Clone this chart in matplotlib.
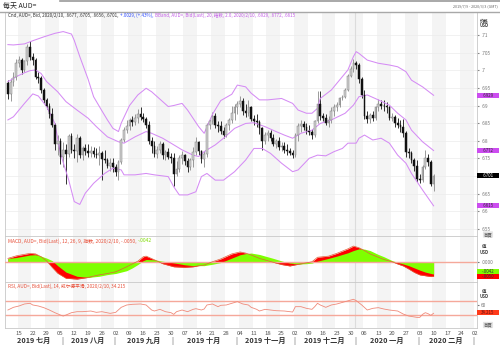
import numpy as np
import pandas as pd
import matplotlib
matplotlib.use("Agg")
import matplotlib.pyplot as plt
from matplotlib import transforms
from matplotlib.patches import Rectangle

plt.rcParams['font.family'] = ['Noto Sans CJK SC', 'DejaVu Sans']

W, H = 500, 352

# trading days shown (AUD= daily candles) and the empty days to the right
days = pd.bdate_range("2019-07-09", "2020-02-10")
axis_days = pd.bdate_range("2019-07-09", "2020-03-06")

opens = [.6965, .6932, .6968, .6980,
         .7022, .7030, .7002, .7025, .7065,
         .7038, .7030, .6982, .6978, .6945,
         .6915, .6900, .6875, .6845, .6790,
         .6800, .6755, .6775, .6762, .6812,
         .6775, .6770, .6808, .6760, .6778,
         .6770, .6765, .6772, .6762, .6758,
         .6765, .6748, .6745, .6728, .6738,
         .6725, .6712, .6740, .6802, .6830,
         .6842, .6858, .6852, .6865, .6875,
         .6868, .6862, .6845, .6798, .6785,
         .6762, .6775, .6792, .6758, .6768,
         .6755, .6752, .6705, .6720, .6752,
         .6758, .6742, .6725, .6745, .6768,
         .6795, .6770, .6748, .6762, .6845,
         .6855, .6870, .6845, .6842, .6828,
         .6815, .6845, .6858, .6880, .6895,
         .6905, .6912, .6885, .6880, .6895,
         .6862, .6855, .6852, .6835, .6800,
         .6815, .6822, .6808, .6792, .6798,
         .6782, .6785, .6775, .6772, .6765,
         .6758, .6815, .6842, .6848, .6838,
         .6828, .6825, .6815, .6855, .6905,
         .6870, .6865, .6850, .6858, .6885,
         .6895, .6902, .6920, .6925, .6945,
         .6985, .7005, .7020, .7015, .6975,
         .6930, .6870, .6862, .6872, .6865,
         .6895, .6905, .6900, .6898, .6895,
         .6865, .6868, .6850, .6845, .6840,
         .6822, .6768, .6765, .6745, .6728,
         .6690, .6688, .6725, .6752, .6740,
         .6677]
highs = [.6972, .6978, .6995, .7032,
         .7040, .7035, .7030, .7075, .7082,
         .7048, .7035, .6995, .6985, .6950,
         .6922, .6908, .6892, .6850, .6815,
         .6808, .6795, .6792, .6820, .6822,
         .6790, .6820, .6812, .6785, .6790,
         .6792, .6785, .6782, .6780, .6785,
         .6772, .6775, .6752, .6750, .6750,
         .6735, .6745, .6808, .6840, .6860,
         .6865, .6870, .6875, .6890, .6895,
         .6880, .6868, .6855, .6810, .6800,
         .6785, .6800, .6795, .6775, .6778,
         .6765, .6765, .6742, .6760, .6770,
         .6762, .6750, .6752, .6782, .6810,
         .6800, .6775, .6772, .6850, .6862,
         .6882, .6878, .6855, .6855, .6840,
         .6850, .6865, .6900, .6905, .6912,
         .6928, .6920, .6905, .6915, .6900,
         .6872, .6875, .6858, .6840, .6825,
         .6830, .6830, .6820, .6805, .6810,
         .6795, .6795, .6790, .6780, .6775,
         .6822, .6850, .6860, .6855, .6850,
         .6845, .6832, .6860, .6940, .6940,
         .6880, .6875, .6870, .6895, .6905,
         .6910, .6925, .6930, .6950, .6990,
         .7012, .7032, .7025, .7020, .6980,
         .6945, .6885, .6880, .6885, .6900,
         .6918, .6915, .6915, .6910, .6900,
         .6878, .6872, .6865, .6860, .6862,
         .6828, .6780, .6772, .6750, .6745,
         .6705, .6730, .6775, .6762, .6745,
         .6705]
lows = [.6918, .6912, .6955, .6972,
        .7010, .6990, .6995, .7015, .7030,
        .7015, .6975, .6965, .6935, .6908,
        .6890, .6865, .6840, .6775, .6760,
        .6735, .6725, .6677, .6755, .6765,
        .6752, .6740, .6752, .6745, .6760,
        .6755, .6755, .6755, .6750, .6732,
        .6688, .6738, .6722, .6715, .6712,
        .6700, .6688, .6735, .6795, .6822,
        .6830, .6842, .6845, .6850, .6860,
        .6852, .6835, .6790, .6765, .6755,
        .6752, .6765, .6748, .6745, .6748,
        .6738, .6671, .6700, .6710, .6735,
        .6730, .6712, .6718, .6725, .6760,
        .6760, .6738, .6725, .6755, .6832,
        .6848, .6835, .6825, .6818, .6808,
        .6810, .6830, .6850, .6860, .6875,
        .6895, .6872, .6868, .6870, .6855,
        .6845, .6840, .6820, .6775, .6790,
        .6800, .6800, .6785, .6780, .6775,
        .6770, .6765, .6760, .6760, .6750,
        .6755, .6800, .6825, .6830, .6820,
        .6815, .6805, .6810, .6850, .6860,
        .6855, .6845, .6840, .6850, .6870,
        .6885, .6895, .6915, .6920, .6940,
        .6980, .6995, .7005, .6965, .6920,
        .6862, .6850, .6850, .6855, .6860,
        .6885, .6890, .6885, .6880, .6858,
        .6855, .6840, .6835, .6825, .6810,
        .6755, .6752, .6738, .6715, .6682,
        .6680, .6682, .6720, .6728, .6670,
        .6656]
closes = [.6932, .6968, .6980, .7022,
          .7030, .7002, .7025, .7065, .7038,
          .7030, .6982, .6978, .6945, .6915,
          .6900, .6875, .6845, .6790, .6800,
          .6755, .6775, .6762, .6812, .6775,
          .6770, .6808, .6760, .6778, .6770,
          .6765, .6772, .6762, .6758, .6765,
          .6748, .6745, .6728, .6738, .6725,
          .6712, .6740, .6802, .6830, .6842,
          .6858, .6852, .6865, .6875, .6868,
          .6862, .6845, .6798, .6785, .6762,
          .6775, .6792, .6758, .6768, .6755,
          .6752, .6705, .6720, .6752, .6758,
          .6742, .6725, .6745, .6768, .6795,
          .6770, .6748, .6762, .6845, .6855,
          .6870, .6845, .6842, .6828, .6815,
          .6845, .6858, .6880, .6895, .6905,
          .6912, .6885, .6880, .6895, .6862,
          .6855, .6852, .6835, .6800, .6815,
          .6822, .6808, .6792, .6798, .6782,
          .6785, .6775, .6772, .6765, .6758,
          .6815, .6842, .6848, .6838, .6828,
          .6825, .6815, .6855, .6905, .6870,
          .6865, .6850, .6858, .6885, .6895,
          .6902, .6920, .6925, .6945, .6985,
          .7005, .7020, .7015, .6975, .6930,
          .6870, .6862, .6872, .6865, .6895,
          .6905, .6900, .6898, .6895, .6865,
          .6868, .6850, .6845, .6840, .6822,
          .6768, .6765, .6745, .6728, .6690,
          .6688, .6725, .6752, .6740, .6678,
          .6701]

# Bollinger band (20, 2.0, exponential)
bb_up_dates = ["2019-07-09", "2019-07-11", "2019-07-17", "2019-07-22", "2019-07-26", "2019-08-01",
               "2019-08-06", "2019-08-09", "2019-08-12", "2019-08-14", "2019-08-19", "2019-08-21",
               "2019-08-26", "2019-08-28", "2019-08-30", "2019-09-03", "2019-09-04", "2019-09-09",
               "2019-09-12", "2019-09-17", "2019-09-19", "2019-09-23", "2019-09-27", "2019-10-01",
               "2019-10-04", "2019-10-08", "2019-10-14", "2019-10-16", "2019-10-21", "2019-10-24",
               "2019-10-30", "2019-11-01", "2019-11-06", "2019-11-08", "2019-11-13", "2019-11-18",
               "2019-11-25", "2019-11-29", "2019-12-03", "2019-12-06", "2019-12-10", "2019-12-12",
               "2019-12-13", "2019-12-19", "2019-12-25", "2019-12-27", "2019-12-31", "2020-01-01",
               "2020-01-02", "2020-01-07", "2020-01-13", "2020-01-17", "2020-01-22", "2020-01-27",
               "2020-01-29", "2020-02-04", "2020-02-10"]
bb_up = [.7073, .7072, .7075, .7084, .7095, .7105,
         .7110, .7103, .7085, .7039, .6975, .6925,
         .6885, .6859, .6835, .6826, .6850, .6900,
         .6930, .6949, .6939, .6925, .6897, .6900,
         .6906, .6887, .6840, .6821, .6875, .6914,
         .6932, .6958, .6953, .6935, .6916, .6916,
         .6920, .6906, .6887, .6878, .6878, .6892,
         .6920, .6944, .6982, .7001, .7039, .7053,
         .7048, .7029, .7020, .7015, .7010, .6996,
         .6972, .6953, .6929]
bb_mid_dates = ["2019-07-09", "2019-07-10", "2019-07-12", "2019-07-17", "2019-07-19", "2019-07-23",
                "2019-07-25", "2019-07-29", "2019-08-02", "2019-08-07", "2019-08-13", "2019-08-19",
                "2019-08-22", "2019-08-28", "2019-09-03", "2019-09-05", "2019-09-11", "2019-09-17",
                "2019-09-19", "2019-09-25", "2019-09-30", "2019-10-04", "2019-10-10", "2019-10-14",
                "2019-10-16", "2019-10-22", "2019-10-25", "2019-10-31", "2019-11-06", "2019-11-11",
                "2019-11-15", "2019-11-21", "2019-11-26", "2019-11-29", "2019-12-04", "2019-12-10",
                "2019-12-13", "2019-12-19", "2019-12-26", "2019-12-31", "2020-01-02", "2020-01-07",
                "2020-01-13", "2020-01-17", "2020-01-22", "2020-01-27", "2020-01-29", "2020-02-04",
                "2020-02-10"]
bb_mid = [.6968, .6972, .6982, .6993, .6999, .7001,
          .6991, .6968, .6939, .6911, .6887, .6864,
          .6840, .6811, .6797, .6793, .6811, .6826,
          .6821, .6807, .6793, .6774, .6759, .6755,
          .6769, .6788, .6807, .6835, .6849, .6851,
          .6840, .6826, .6816, .6807, .6821, .6830,
          .6849, .6859, .6878, .6901, .6925, .6930,
          .6916, .6901, .6878, .6859, .6830, .6797,
          .6772]
bb_low_dates = ["2019-07-09", "2019-07-11", "2019-07-17", "2019-07-22", "2019-07-24", "2019-07-29",
                "2019-08-01", "2019-08-05", "2019-08-08", "2019-08-12", "2019-08-14", "2019-08-16",
                "2019-08-21", "2019-08-27", "2019-08-30", "2019-09-04", "2019-09-05", "2019-09-11",
                "2019-09-17", "2019-09-20", "2019-09-27", "2019-10-01", "2019-10-03", "2019-10-08",
                "2019-10-11", "2019-10-15", "2019-10-17", "2019-10-22", "2019-10-25", "2019-10-31",
                "2019-11-06", "2019-11-11", "2019-11-14", "2019-11-19", "2019-11-25", "2019-11-29",
                "2019-12-03", "2019-12-09", "2019-12-12", "2019-12-17", "2019-12-20", "2019-12-25",
                "2019-12-27", "2020-01-01", "2020-01-02", "2020-01-06", "2020-01-09", "2020-01-14",
                "2020-01-17", "2020-01-22", "2020-01-27", "2020-01-29", "2020-02-04", "2020-02-10"]
bb_low = [.6859, .6868, .6906, .6933, .6927, .6897,
          .6849, .6764, .6688, .6627, .6619, .6651,
          .6679, .6707, .6722, .6717, .6703, .6703,
          .6707, .6703, .6698, .6669, .6646, .6646,
          .6655, .6698, .6707, .6688, .6688, .6712,
          .6745, .6778, .6778, .6764, .6736, .6712,
          .6717, .6750, .6759, .6757, .6769, .6778,
          .6793, .6793, .6807, .6816, .6802, .6807,
          .6793, .6759, .6736, .6707, .6660, .6615]

# MACD (12, 26, 9) and its signal line
macd_dates = ["2019-07-09", "2019-07-12", "2019-07-19", "2019-07-23", "2019-07-25", "2019-07-29",
              "2019-07-31", "2019-08-02", "2019-08-07", "2019-08-13", "2019-08-19", "2019-08-23",
              "2019-08-28", "2019-09-02", "2019-09-06", "2019-09-10", "2019-09-12", "2019-09-16",
              "2019-09-17", "2019-09-20", "2019-09-25", "2019-10-01", "2019-10-07", "2019-10-10",
              "2019-10-14", "2019-10-16", "2019-10-21", "2019-10-24", "2019-10-30", "2019-11-04",
              "2019-11-06", "2019-11-08", "2019-11-13", "2019-11-20", "2019-11-25", "2019-11-28",
              "2019-12-03", "2019-12-06", "2019-12-10", "2019-12-12", "2019-12-18", "2019-12-23",
              "2019-12-27", "2019-12-31", "2020-01-02", "2020-01-06", "2020-01-08", "2020-01-13",
              "2020-01-15", "2020-01-20", "2020-01-22", "2020-01-24", "2020-01-28", "2020-01-30",
              "2020-02-03", "2020-02-05", "2020-02-07", "2020-02-10"]
macd = [.0014, .0023, .0032, .0030, .0020, .0005,
        -.0018, -.0039, -.0057, -.0060, -.0054, -.0045,
        -.0040, -.0034, -.0016, -.0006, .0004, .0020,
        .0022, .0009, -.0005, -.0016, -.0018, -.0016,
        -.0012, -.0010, .0002, .0012, .0030, .0037,
        .0033, .0026, .0014, .0000, -.0008, -.0013,
        -.0007, -.0002, .0002, .0018, .0022, .0032,
        .0048, .0058, .0052, .0042, .0030, .0018,
        .0010, .0002, -.0006, -.0013, -.0024, -.0036,
        -.0045, -.0048, -.0051, -.0050]
signal = [.0014, .0017, .0026, .0027, .0022, .0015,
          .0006, -.0012, -.0035, -.0050, -.0054, -.0050,
          -.0044, -.0040, -.0030, -.0020, -.0008, .0006,
          .0010, .0009, .0004, -.0002, -.0009, -.0012,
          -.0012, -.0012, -.0007, -.0001, .0015, .0027,
          .0031, .0033, .0028, .0014, .0005, -.0003,
          -.0006, -.0005, -.0003, .0004, .0014, .0022,
          .0034, .0042, .0048, .0047, .0042, .0028,
          .0020, .0006, .0000, -.0006, -.0012, -.0020,
          -.0028, -.0035, -.0040, -.0042]

# RSI (14, Wilder)
rsi_dates = ["2019-07-09", "2019-07-11", "2019-07-15", "2019-07-17", "2019-07-19", "2019-07-22",
             "2019-07-24", "2019-07-26", "2019-07-30", "2019-08-01", "2019-08-05", "2019-08-06",
             "2019-08-07", "2019-08-09", "2019-08-13", "2019-08-15", "2019-08-20", "2019-08-22",
             "2019-08-26", "2019-08-29", "2019-09-02", "2019-09-04", "2019-09-06", "2019-09-10",
             "2019-09-13", "2019-09-17", "2019-09-19", "2019-09-20", "2019-09-24", "2019-09-26",
             "2019-09-30", "2019-10-01", "2019-10-02", "2019-10-04", "2019-10-08", "2019-10-10",
             "2019-10-11", "2019-10-15", "2019-10-16", "2019-10-17", "2019-10-21", "2019-10-23",
             "2019-10-24", "2019-10-28", "2019-10-30", "2019-11-01", "2019-11-05", "2019-11-07",
             "2019-11-08", "2019-11-12", "2019-11-13", "2019-11-15", "2019-11-19", "2019-11-21",
             "2019-11-26", "2019-11-28", "2019-11-29", "2019-12-02", "2019-12-04", "2019-12-06",
             "2019-12-10", "2019-12-11", "2019-12-12", "2019-12-13", "2019-12-17", "2019-12-19",
             "2019-12-23", "2019-12-26", "2019-12-31", "2020-01-01", "2020-01-03", "2020-01-07",
             "2020-01-09", "2020-01-13", "2020-01-15", "2020-01-17", "2020-01-22", "2020-01-24",
             "2020-01-28", "2020-01-31", "2020-02-03", "2020-02-04", "2020-02-05", "2020-02-06",
             "2020-02-07", "2020-02-10"]
rsi = [44, 52, 56, 62, 64, 59,
       56, 51, 44, 36, 29, 26,
       29, 36, 39, 39, 41, 37,
       39, 34, 37, 52, 59, 61,
       62, 59, 44, 41, 46, 39,
       36, 31, 39, 44, 39, 46,
       48, 44, 47, 59, 62, 54,
       58, 59, 64, 69, 62, 59,
       52, 46, 41, 46, 44, 42,
       41, 39, 38, 54, 54, 49,
       46, 54, 64, 59, 52, 59,
       62, 69, 76, 72, 59, 44,
       49, 51, 47, 44, 41, 32,
       26, 22, 22, 31, 36, 33,
       28, 34.215]

month_names = ["2019 七月", "2019 八月", "2019 九月", "2019 十月", "2019 十一月",
               "2019 十二月", "2020 一月", "2020 二月"]
# first day after each "|" separator in the date row
month_seps = ["2019-08-06", "2019-09-02", "2019-10-01", "2019-11-01", "2019-12-02",
              "2020-01-01", "2020-02-03", "2020-03-02"]

opens, highs, lows, closes = map(np.array, (opens, highs, lows, closes))
pos = {d: i for i, d in enumerate(axis_days)}
def day_x(dates):
    return np.array([pos[pd.Timestamp(d)] for d in dates])

def fy(py):
    return 1 - py / H

fig = plt.figure(figsize=(W / 100, H / 100), dpi=100)
fig.patch.set_facecolor('white')
left, width = 5 / W, 472 / W
ax = fig.add_axes([left, fy(236), width, 224 / H])
ax_m = fig.add_axes([left, fy(282), width, 46 / H], sharex=ax)
ax_r = fig.add_axes([left, fy(328), width, 46 / H], sharex=ax)

x0, x1 = -1.05, 169.7
mondays = [i for i, d in enumerate(axis_days) if d.weekday() == 0]
for a in (ax, ax_m, ax_r):
    a.set_facecolor('white')
    for k, m in enumerate(mondays):
        if k % 2 == 0:
            a.axvspan(m - 0.5, m + 4.5, color='#f4f4f4', lw=0, zorder=0)
    a.axvline(pos[pd.Timestamp("2020-01-01")] - 0.5, color='#dcdcdc', lw=0.8, zorder=0.5)
    for s in a.spines.values():
        s.set_color('#c8c8c8')
        s.set_linewidth(0.6)
    a.tick_params(axis='both', length=0, labelsize=3.4, colors='#777777')
    a.yaxis.tick_right()
a = None

# main price panel
price_ticks = np.round(np.arange(0.655, 0.7101, 0.005), 3)
for p in price_ticks:
    ax.axhline(p, color='#ececec', lw=0.5, zorder=0.4)
x = np.arange(len(closes))
up = closes >= opens
ax.vlines(x[up], lows[up], highs[up], color='#8a8a8a', lw=0.6, zorder=2)
ax.vlines(x[~up], lows[~up], highs[~up], color='#111111', lw=0.6, zorder=2)
ax.bar(x[up], np.maximum(closes - opens, 0.00006)[up], bottom=opens[up], width=0.62,
       color='#d0d0d0', edgecolor='#808080', lw=0.35, zorder=3)
ax.bar(x[~up], (opens - closes)[~up], bottom=closes[~up], width=0.62,
       color='#111111', edgecolor='#111111', lw=0.35, zorder=3)
bb_col = '#d58cf4'
ax.plot(day_x(bb_up_dates), bb_up, color=bb_col, lw=0.75, zorder=2.5)
ax.plot(day_x(bb_mid_dates), bb_mid, color=bb_col, lw=0.75, zorder=2.5)
ax.plot(day_x(bb_low_dates), bb_low, color=bb_col, lw=0.75, zorder=2.5)
ax.set_xlim(x0, x1)
ax.set_ylim(0.65293, 0.71656)
ax.set_yticks(price_ticks)
# the .67 label sits under the close tag, as in the original
ax.set_yticklabels(['' if abs(p - 0.67) < 1e-9 else f"{p:.3f}".rstrip('0').lstrip('0')
                    for p in price_ticks])
ax.tick_params(axis='y', length=1.5, pad=1.5, colors='#888888', labelcolor='#777777')
ax.tick_params(axis='x', labelbottom=False)

# MACD panel
mx = day_x(macd_dates)
ax_m.fill_between(mx, 0, macd, color='#ff0000', lw=0, zorder=2)
ax_m.fill_between(mx, 0, signal, color='#7fff00', lw=0, zorder=3)
ax_m.plot(mx, macd, color='#e0603a', lw=0.5, zorder=4)
ax_m.axhline(0, color='#f5a89a', lw=1.0, zorder=3.5)
ax_m.set_ylim(-0.00704, 0.00939)
ax_m.set_yticks([0.0])
ax_m.set_yticklabels(['.0000'])
ax_m.tick_params(axis='y', length=1.5, pad=1.5)
ax_m.tick_params(axis='x', labelbottom=False)

# RSI panel
ax_r.plot(day_x(rsi_dates), rsi, color='#f08a7a', lw=0.6, zorder=3)
ax_r.axhline(70, color='#f5a89a', lw=1.0, zorder=2)
ax_r.axhline(30, color='#f5a89a', lw=1.0, zorder=2)
ax_r.set_ylim(-9.7, 127.6)
ax_r.set_yticks([60])
ax_r.set_yticklabels(['60'])
ax_r.tick_params(axis='y', length=1.5, pad=1.5)
ax_r.set_xticks(mondays)
ax_r.set_xticklabels([axis_days[m].strftime('%d') for m in mondays])
ax_r.tick_params(axis='x', labelsize=4.3, colors='#555555', pad=2, length=0)

# month row under the day numbers
seps = [pos[pd.Timestamp(d)] - 0.5 for d in month_seps]
bounds = [x0] + seps
to_fig = lambda v: (left + (v - x0) / (x1 - x0) * width)
for k, name in enumerate(month_names):
    cx = (bounds[k] + bounds[k + 1]) / 2
    fig.text(to_fig(cx), fy(340.8), name, fontsize=5.2, fontweight='bold', color='#333333',
             ha='center', va='center')
for s in seps:
    fig.text(to_fig(s), fy(340.8), '|', fontsize=5, color='#555555', ha='center', va='center')

# header
fig.text(3 / W, fy(5.5), '每天 AUD=', fontsize=5, color='#222222', va='center')
fig.text(498 / W, fy(6.5), '2019/7/9 - 2020/3/3 (GMT)', fontsize=2.7, color='#666666',
         ha='right', va='center')
fig.add_artist(plt.Line2D([60 / W, 1], [fy(1), fy(1)], color='#9a9a9a', lw=1.2))
fig.add_artist(plt.Line2D([0, 1], [fy(11.5), fy(11.5)], color='#a8a8a8', lw=1.0))

fig.canvas.draw()
rend = fig.canvas.get_renderer()
def legend_line(py, parts, size):
    px = 8
    for s, c in parts:
        t = fig.text(px / W, fy(py), s, fontsize=size, color=c, va='center', ha='left')
        px += t.get_window_extent(renderer=rend).width + 1.5

legend_line(15.5, [("Cnd, AUD=, Bid, 2020/2/10, .6677, .6705, .6656, .6701,", '#333333'),
                   ("+.0029, (+.43%),", '#2f4dff'),
                   ("BBand, AUD=, Bid(Last), 20, 指数, 2.0, 2020/2/10, .6929, .6772, .6615", '#c45ce8')],
            3.25)
legend_line(241, [("MACD, AUD=, Bid(Last), 12, 26, 9, 指数, 2020/2/10, -.0050,", '#e8503a'),
                  ("-.0042", '#7fdd00')], 3.5)
legend_line(286, [("RSI, AUD=, Bid(Last), 14, 威尔德平滑, 2020/2/10, 34.215", '#e8503a')], 3.4)

# right-hand axis captions and value tags
for py, s in [(20.5, '价格'), (25.7, 'USD'), (246, '值'), (253, 'USD'), (291.7, '值'), (296.7, 'USD')]:
    fig.text(484 / W, fy(py), s, fontsize=3.2, color='#444444', ha='center', va='center',
             fontweight='bold')
for py in (234.5, 325):
    fig.text(488 / W, fy(py), '首頁', fontsize=3.2, color='#555555', ha='center', va='center',
             bbox=dict(boxstyle='round,pad=0.15', fc='#e4e4e4', ec='none'))

def tag(axis, val, s, fc, tc, h):
    tr = transforms.blended_transform_factory(fig.transFigure, axis.transData)
    axis.add_artist(Rectangle((477 / W, val - h / 2), 22 / W, h, transform=tr, fc=fc, ec='none',
                              clip_on=False, zorder=10))
    axis.text(488 / W, val, s, transform=tr, fontsize=3.2, color=tc, ha='center', va='center',
              clip_on=False, zorder=11)

ph = 5 / 3520
tag(ax, 0.6929, '.6929', '#cc4cf0', '#333333', ph)
tag(ax, 0.6772, '.6772', '#cc4cf0', '#333333', ph)
tag(ax, 0.6701, '.6701', '#000000', '#ffffff', ph)
tag(ax, 0.6615, '.6615', '#cc4cf0', '#333333', ph)
tag(ax_m, -0.0032, '-.0042', '#7fff00', '#333333', 5 / 2800)
tag(ax_m, -0.0049, '-.0050', '#ff0000', '#333333', 5 / 2800)
tag(ax_r, 35.5, '34.215', '#ff3a1a', '#661111', 5 / 0.335)

fig.savefig('out.png', dpi=100, facecolor='white')
